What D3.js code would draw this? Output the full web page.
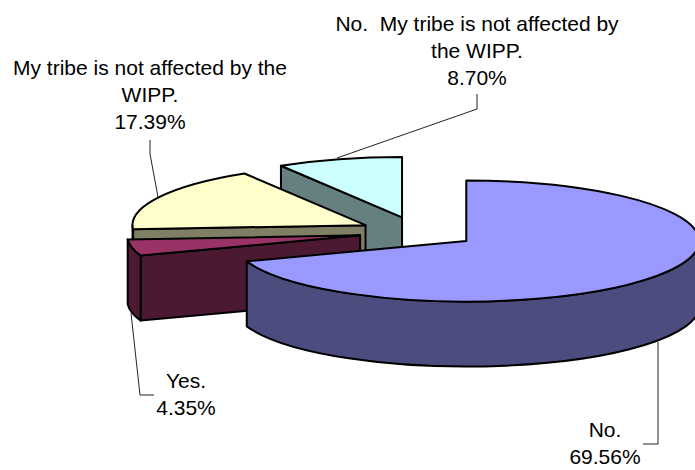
<!DOCTYPE html>
<html>
<head>
<meta charset="utf-8">
<script src="https://cdn.jsdelivr.net/npm/d3@7"></script>
<style>
  html, body { margin: 0; padding: 0; background: #fff; overflow: hidden; }
  text { font-family: "Liberation Sans", Arial, sans-serif; font-size: 21px; fill: #000; }
</style>
</head>
<body>
<div id="chart"></div>
<script>
// Values, in drawing order round the pie
const names = ["No.", "Yes.", "My tribe is not affected by the WIPP.", "No.  My tribe is not affected by the WIPP."];
const values = [69.56, 4.35, 17.39, 8.70];
const percentLabels = ["69.56%", "4.35%", "17.39%", "8.70%"];
const topColors = ["#9999ff", "#993366", "#ffffcc", "#ccffff"];
const sideColors = ["#4c4c7f", "#4c1933", "#7f7f66", "#667f7f"];

// Label text broken the way the chart breaks it
const labelLines = [
  ["No.", "69.56%"],
  ["Yes.", "4.35%"],
  ["My tribe is not affected by the", "WIPP.", "17.39%"],
  ["No.  My tribe is not affected by", "the WIPP.", "8.70%"]
];
const labelAnchors = [[605, 437], [186, 388], [150, 75], [477, 31]];
const leaders = [
  [[658, 342], [658, 444], [643, 444]],
  [[131, 313], [140, 395], [154, 395]],
  [[158, 197], [150, 154], [150, 140]],
  [[337, 158], [477, 109], [477, 94]]
];

const width = 695;
const height = 470;
const cx = 418;      // pie centre before the slices are pulled out
const cy = 232.2;
const rx = 233;
const ry = 60.5;
const depth = 65;
const explode = 0.2536;

const svg = d3.select("#chart").append("svg")
  .attr("width", width)
  .attr("height", height);

const pie = d3.pie().sort(null).value(d => d);
const slices = pie(values);

// point on the flattened circle for angle a, r = 1 is the rim
function pt(a, r, c) {
  return [c[0] + Math.sin(a) * rx * r, c[1] - Math.cos(a) * ry * r];
}

function sliceCentre(s) {
  const mid = (s.startAngle + s.endAngle) / 2;
  return pt(mid, explode, [cx, cy]);
}

// rim wall between two angles, sweep runs clockwise on screen
function rimWall(a0, a1, c) {
  const p0 = pt(a0, 1, c);
  const p1 = pt(a1, 1, c);
  const large = a1 - a0 > Math.PI ? 1 : 0;
  return `M${p0} A${rx} ${ry} 0 ${large} 1 ${p1} L${p1[0]} ${p1[1] + depth} ` +
    `A${rx} ${ry} 0 ${large} 0 ${p0[0]} ${p0[1] + depth} Z`;
}

// flat wall under the cut from the centre out to the rim at angle a
function cutWall(a, c) {
  const p = pt(a, 1, c);
  return `M${c} L${p} L${p[0]} ${p[1] + depth} L${c[0]} ${c[1] + depth} Z`;
}

function topFace(s, c) {
  const p0 = pt(s.startAngle, 1, c);
  const p1 = pt(s.endAngle, 1, c);
  const large = s.endAngle - s.startAngle > Math.PI ? 1 : 0;
  return `M${c} L${p0} A${rx} ${ry} 0 ${large} 1 ${p1} Z`;
}

const edge = { stroke: "#000", "stroke-width": 2, "stroke-linejoin": "round" };

function face(d, fill) {
  const p = svg.append("path").attr("d", d).attr("fill", fill);
  Object.entries(edge).forEach(([k, v]) => p.attr(k, v));
}

// Back slices first so the nearer ones cover them
[3, 2, 1, 0].forEach(i => {
  const s = slices[i];
  const c = sliceCentre(s);
  const a0 = s.startAngle;
  const a1 = s.endAngle;
  const front0 = Math.PI / 2;
  const front1 = Math.PI * 1.5;

  // cut side facing the viewer
  if (i !== 0) face(cutWall(a0, c), sideColors[i]);

  // rim side, only the part on the front half of the ellipse
  const r0 = Math.max(a0, front0);
  const r1 = Math.min(a1, front1);
  if (r1 > r0) face(rimWall(r0, r1, c), sideColors[i]);

  face(topFace(s, c), topColors[i]);
});

// Leader lines
const line = d3.line();
svg.selectAll("path.leader")
  .data(leaders)
  .join("path")
  .attr("class", "leader")
  .attr("d", d => line(d))
  .attr("fill", "none")
  .attr("stroke", "#222")
  .attr("stroke-width", 1);

// Labels
labelLines.forEach((lines, i) => {
  const t = svg.append("text")
    .attr("text-anchor", "middle")
    .attr("x", labelAnchors[i][0])
    .attr("y", labelAnchors[i][1]);
  lines.forEach((l, j) => {
    t.append("tspan")
      .attr("x", labelAnchors[i][0])
      .attr("dy", j === 0 ? 0 : 26.8)
      .style("white-space", "pre")
      .text(l);
  });
});
</script>
</body>
</html>
